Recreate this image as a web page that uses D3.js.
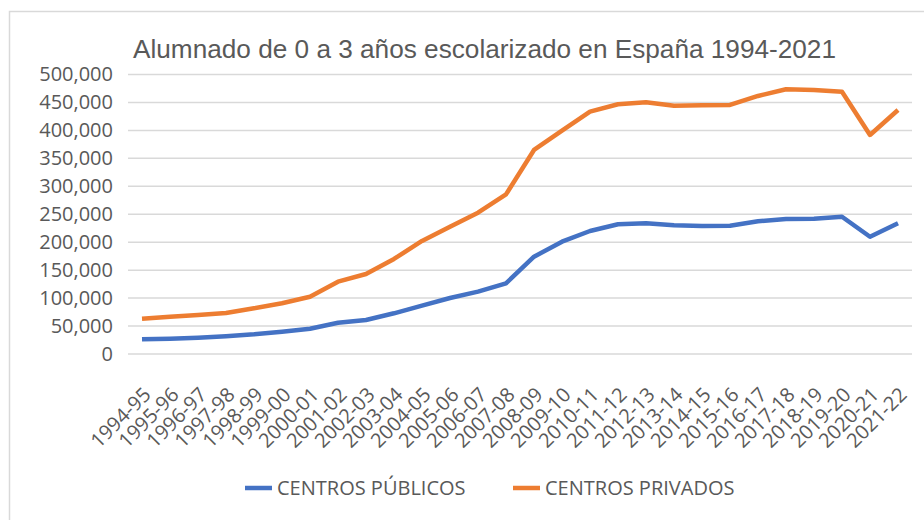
<!DOCTYPE html>
<html>
<head>
<meta charset="utf-8">
<script src="https://cdn.jsdelivr.net/npm/d3@7"></script>
<style>
  body { margin: 0; background: #fff; }
</style>
</head>
<body>
<script>
const cursos = ["1994-95","1995-96","1996-97","1997-98","1998-99","1999-00","2000-01","2001-02",
  "2002-03","2003-04","2004-05","2005-06","2006-07","2007-08","2008-09","2009-10","2010-11",
  "2011-12","2012-13","2013-14","2014-15","2015-16","2016-17","2017-18","2018-19","2019-20",
  "2020-21","2021-22"];
const publicos = [26300, 27400, 29200, 31700, 35200, 39900, 45300, 56000, 60800, 72800, 86500,
  100200, 111500, 126500, 174100, 200900, 220000, 232000, 233800, 230200, 229000, 229500,
  237400, 241500, 242000, 245600, 209800, 233800];
const privados = [63100, 66700, 69800, 73300, 81700, 90700, 102500, 129400, 143100, 170000,
  202200, 227800, 252800, 285500, 365000, 399500, 433500, 446700, 450300, 444200, 444900,
  445500, 461600, 473500, 472300, 469300, 391800, 436500];
const y_ticks = [0, 50000, 100000, 150000, 200000, 250000, 300000, 350000, 400000, 450000, 500000];
const series = [
  { name: "CENTROS PÚBLICOS", values: publicos, color: "#4472C4" },
  { name: "CENTROS PRIVADOS", values: privados, color: "#ED7D31" }
];
const title = "Alumnado de 0 a 3 años escolarizado en España 1994-2021";

const width = 924, height = 520;
const margin = { top: 74.5, right: 12, bottom: 166, left: 128 };
const font = "'Open Sans', sans-serif";

const svg = d3.select("body").append("svg")
  .attr("width", width).attr("height", height);

// chart frame
svg.append("rect")
  .attr("x", 9.5).attr("y", 11.5)
  .attr("width", width + 20).attr("height", height + 20)
  .attr("fill", "none").attr("stroke", "#d9d9d9").attr("stroke-width", 1.5);

const x = d3.scaleBand()
  .domain(cursos)
  .range([margin.left, width - margin.right]);
const y = d3.scaleLinear()
  .domain([0, 500000])
  .range([height - margin.bottom, margin.top]);

// gridlines
svg.append("g").selectAll("line")
  .data(y_ticks)
  .join("line")
    .attr("x1", margin.left).attr("x2", width - margin.right)
    .attr("y1", d => y(d)).attr("y2", d => y(d))
    .attr("stroke", "#d9d9d9").attr("stroke-width", 1.5);

// y axis labels
const y_axis = svg.append("g")
  .attr("transform", `translate(${margin.left - 15},0)`)
  .call(d3.axisLeft(y).tickValues(y_ticks).tickSize(0).tickFormat(d3.format(",")));
y_axis.select(".domain").remove();
y_axis.selectAll("text")
  .attr("x", 0)
  .attr("font-family", font).attr("font-size", 20).attr("fill", "#595959");

// x axis labels
const x_axis = svg.append("g")
  .attr("transform", `translate(0,${y(0)})`)
  .call(d3.axisBottom(x).tickSize(0));
x_axis.select(".domain").remove();
x_axis.selectAll("text")
  .attr("font-family", font).attr("font-size", 20).attr("fill", "#595959")
  .attr("text-anchor", "end")
  .attr("x", 0).attr("y", 0).attr("dy", 0)
  .attr("transform", "translate(10,42) rotate(-45)");

// lines
const line = d3.line()
  .x((d, i) => x(cursos[i]) + x.bandwidth() / 2)
  .y(d => y(d));
svg.append("g").selectAll("path")
  .data(series)
  .join("path")
    .attr("d", d => line(d.values))
    .attr("fill", "none")
    .attr("stroke", d => d.color)
    .attr("stroke-width", 4.5)
    .attr("stroke-linejoin", "round");

// title
svg.append("text")
  .attr("x", 133).attr("y", 58)
  .attr("font-family", "'Liberation Sans', Arial, sans-serif")
  .attr("font-size", 26).attr("fill", "#595959")
  .attr("textLength", 703).attr("lengthAdjust", "spacingAndGlyphs")
  .text(title);

// legend
const legend_x = [245, 513];
const legend = svg.append("g").selectAll("g")
  .data(series)
  .join("g")
    .attr("transform", (d, i) => `translate(${legend_x[i]},488)`);
legend.append("line")
  .attr("x1", 0).attr("x2", 27)
  .attr("stroke", d => d.color).attr("stroke-width", 4.5);
legend.append("text")
  .attr("x", 32).attr("y", 7)
  .attr("font-family", font).attr("font-size", 20).attr("fill", "#595959")
  .text(d => d.name);
</script>
</body>
</html>
